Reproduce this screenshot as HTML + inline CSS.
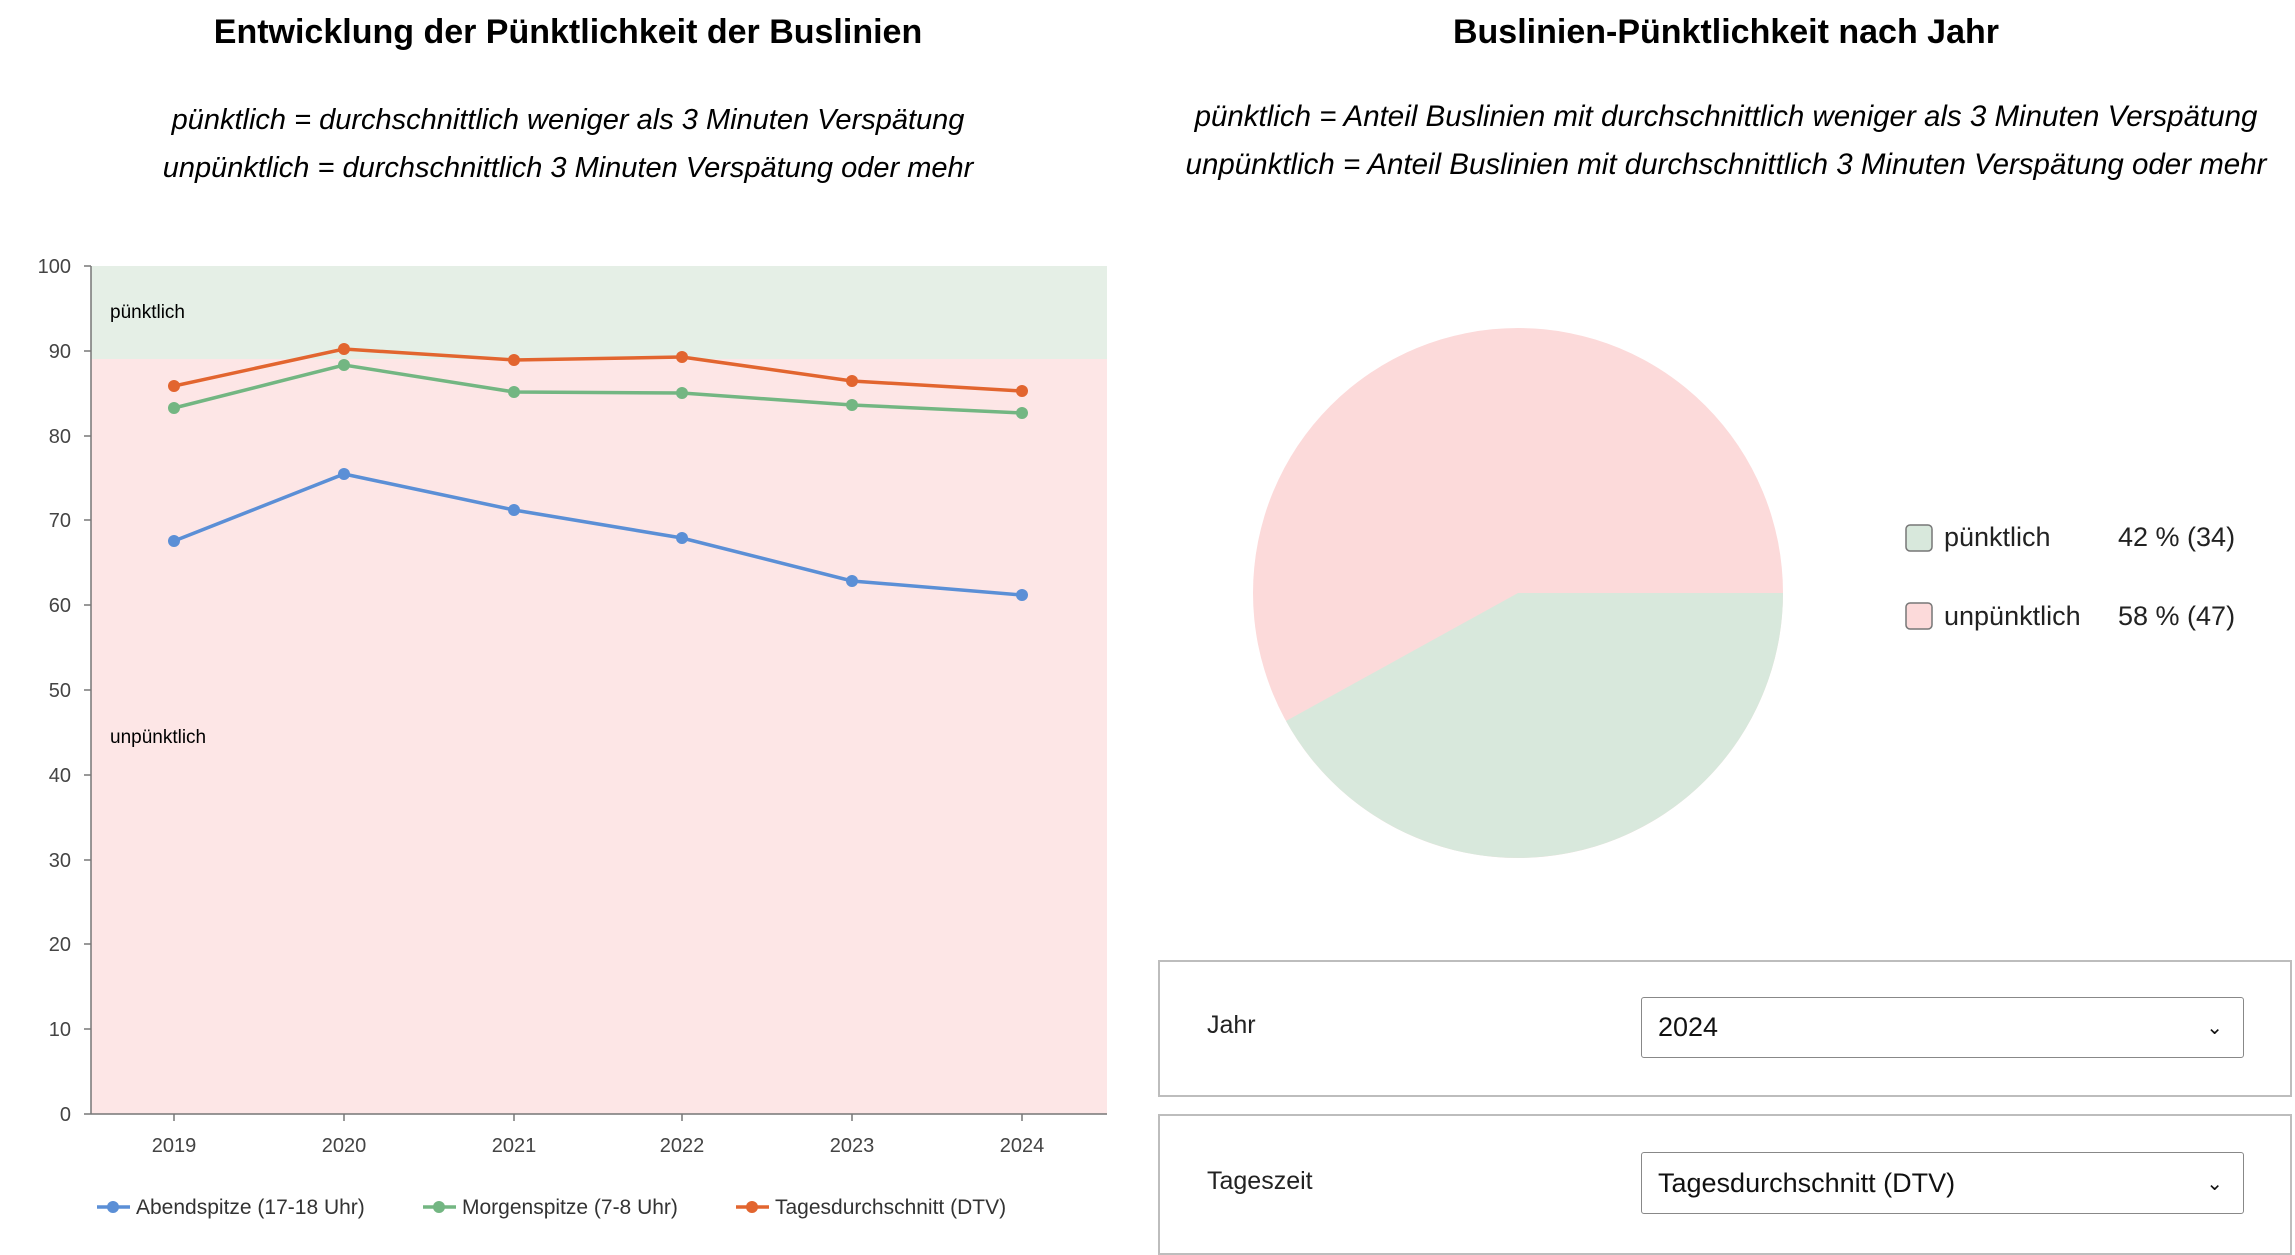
<!DOCTYPE html><html><head><meta charset="utf-8"><style>
body{margin:0;width:2295px;height:1255px;background:#fff;overflow:hidden;font-family:"Liberation Sans",sans-serif}
.box{position:absolute;border:2px solid #bdbdbd;box-sizing:border-box}
.sel{position:absolute;border:1.5px solid #888;border-radius:3px;box-sizing:border-box;font-size:27px;padding-left:16px;display:flex;align-items:center;color:#111}
.lab{position:absolute;font-size:25px;color:#222}
</style></head><body>
<svg width="2295" height="1255" style="position:absolute;left:0;top:0" font-family="Liberation Sans, sans-serif">
<text x="568" y="43" text-anchor="middle" font-size="34" font-weight="bold">Entwicklung der Pünktlichkeit der Buslinien</text>
<text x="568" y="129" text-anchor="middle" font-size="29" font-style="italic">pünktlich = durchschnittlich weniger als 3 Minuten Verspätung</text>
<text x="568" y="177" text-anchor="middle" font-size="29" font-style="italic">unpünktlich = durchschnittlich 3 Minuten Verspätung oder mehr</text>
<text x="1726" y="43" text-anchor="middle" font-size="34" font-weight="bold">Buslinien-Pünktlichkeit nach Jahr</text>
<text x="1726" y="126" text-anchor="middle" font-size="29.5" font-style="italic">pünktlich = Anteil Buslinien mit durchschnittlich weniger als 3 Minuten Verspätung</text>
<text x="1726" y="174" text-anchor="middle" font-size="29.5" font-style="italic">unpünktlich = Anteil Buslinien mit durchschnittlich 3 Minuten Verspätung oder mehr</text>
<rect x="91" y="266" width="1016" height="93" fill="#e5efe6"/>
<rect x="91" y="359" width="1016" height="755" fill="#fde6e6"/>
<text x="110" y="318" font-size="19">pünktlich</text>
<text x="110" y="743" font-size="19">unpünktlich</text>
<g stroke="#777" stroke-width="1.5"><line x1="91" y1="266" x2="91" y2="1114"/><line x1="91" y1="1114" x2="1107" y2="1114"/>
<line x1="84" y1="266" x2="91" y2="266"/><line x1="84" y1="351" x2="91" y2="351"/><line x1="84" y1="436" x2="91" y2="436"/><line x1="84" y1="520" x2="91" y2="520"/><line x1="84" y1="605" x2="91" y2="605"/><line x1="84" y1="690" x2="91" y2="690"/><line x1="84" y1="775" x2="91" y2="775"/><line x1="84" y1="860" x2="91" y2="860"/><line x1="84" y1="944" x2="91" y2="944"/><line x1="84" y1="1029" x2="91" y2="1029"/><line x1="84" y1="1114" x2="91" y2="1114"/>
<line x1="174" y1="1114" x2="174" y2="1121"/><line x1="344" y1="1114" x2="344" y2="1121"/><line x1="514" y1="1114" x2="514" y2="1121"/><line x1="682" y1="1114" x2="682" y2="1121"/><line x1="852" y1="1114" x2="852" y2="1121"/><line x1="1022" y1="1114" x2="1022" y2="1121"/></g>
<g font-size="20" fill="#444" text-anchor="end">
<text x="71" y="273">100</text><text x="71" y="358">90</text><text x="71" y="443">80</text><text x="71" y="527">70</text><text x="71" y="612">60</text><text x="71" y="697">50</text><text x="71" y="782">40</text><text x="71" y="867">30</text><text x="71" y="951">20</text><text x="71" y="1036">10</text><text x="71" y="1121">0</text></g>
<g font-size="20" fill="#444" text-anchor="middle">
<text x="174" y="1152">2019</text><text x="344" y="1152">2020</text><text x="514" y="1152">2021</text><text x="682" y="1152">2022</text><text x="852" y="1152">2023</text><text x="1022" y="1152">2024</text></g>
<g fill="none" stroke-width="3.5">
<polyline stroke="#e2652f" points="174,386 344,349 514,360 682,357 852,381 1022,391"/>
<polyline stroke="#73b682" points="174,408 344,365 514,392 682,393 852,405 1022,413"/>
<polyline stroke="#5b8fd6" points="174,541 344,474 514,510 682,538 852,581 1022,595"/>
</g>
<g fill="#e2652f"><circle cx="174" cy="386" r="6"/><circle cx="344" cy="349" r="6"/><circle cx="514" cy="360" r="6"/><circle cx="682" cy="357" r="6"/><circle cx="852" cy="381" r="6"/><circle cx="1022" cy="391" r="6"/></g>
<g fill="#73b682"><circle cx="174" cy="408" r="6"/><circle cx="344" cy="365" r="6"/><circle cx="514" cy="392" r="6"/><circle cx="682" cy="393" r="6"/><circle cx="852" cy="405" r="6"/><circle cx="1022" cy="413" r="6"/></g>
<g fill="#5b8fd6"><circle cx="174" cy="541" r="6"/><circle cx="344" cy="474" r="6"/><circle cx="514" cy="510" r="6"/><circle cx="682" cy="538" r="6"/><circle cx="852" cy="581" r="6"/><circle cx="1022" cy="595" r="6"/></g>
<g font-size="21" fill="#333">
<line x1="97" y1="1207" x2="130" y2="1207" stroke="#5b8fd6" stroke-width="3.5"/><circle cx="113" cy="1207" r="6" fill="#5b8fd6"/><text x="136" y="1214">Abendspitze (17-18 Uhr)</text>
<line x1="423" y1="1207" x2="456" y2="1207" stroke="#73b682" stroke-width="3.5"/><circle cx="439" cy="1207" r="6" fill="#73b682"/><text x="462" y="1214">Morgenspitze (7-8 Uhr)</text>
<line x1="736" y1="1207" x2="769" y2="1207" stroke="#e2652f" stroke-width="3.5"/><circle cx="752" cy="1207" r="6" fill="#e2652f"/><text x="775" y="1214">Tagesdurchschnitt (DTV)</text></g>
<circle cx="1518" cy="593" r="265" fill="#fcdada"/>
<path d="M1518,593 L1783,593 A265,265 0 0 1 1286,721 Z" fill="#d8e8dc"/>
<rect x="1906" y="525" width="26" height="26" rx="4" fill="#d8e8dc" stroke="#777" stroke-width="1.5"/>
<rect x="1906" y="603" width="26" height="26" rx="4" fill="#fcdada" stroke="#777" stroke-width="1.5"/>
<g font-size="27" fill="#222"><text x="1944" y="546">pünktlich</text><text x="2118" y="546">42 % (34)</text>
<text x="1944" y="625">unpünktlich</text><text x="2118" y="625">58 % (47)</text></g>
</svg>
<div class="box" style="left:1158px;top:960px;width:1134px;height:137px"></div>
<div class="box" style="left:1158px;top:1114px;width:1134px;height:141px"></div>
<div class="lab" style="left:1207px;top:1011px">Jahr</div>
<div class="lab" style="left:1207px;top:1167px">Tageszeit</div>
<div class="sel" style="left:1641px;top:997px;width:603px;height:61px">2024<span style="position:absolute;right:20px;font-size:20px">⌄</span></div>
<div class="sel" style="left:1641px;top:1152px;width:603px;height:62px">Tagesdurchschnitt (DTV)<span style="position:absolute;right:20px;font-size:20px">⌄</span></div>
</body></html>
